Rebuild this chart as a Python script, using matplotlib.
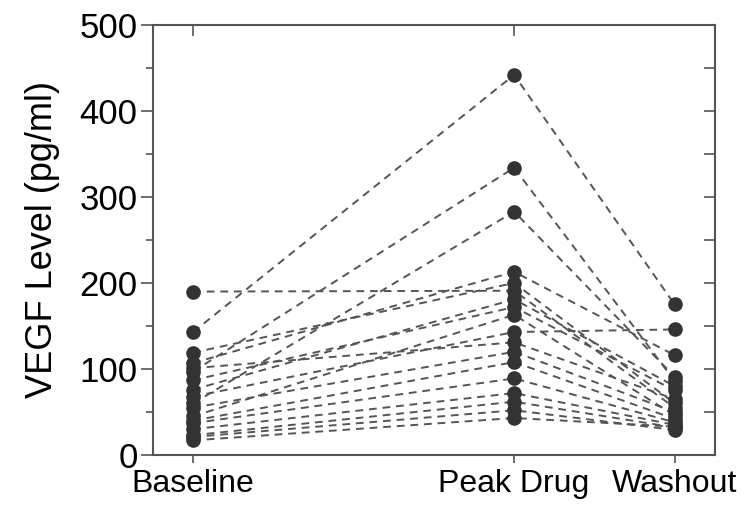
import numpy as np
import matplotlib.pyplot as plt

# one row per patient: baseline -> peak drug -> washout (pg/ml)
stages = ['Baseline', 'Peak Drug', 'Washout']
stage_x = [0, 2, 3]
baseline = [190, 143, 119, 107, 101, 97, 87, 76, 68, 60, 55, 45, 40, 37, 30, 23, 21, 17]
peak = [191, 442, 200, 213, 131, 334, 172, 181, 143, 283, 120, 163, 108, 89, 72, 62, 52, 43]
washout = [55, 175, 60, 116, 65, 86, 75, 80, 146, 91, 50, 46, 42, 38, 35, 32, 29, 33]

plt.rcParams['font.family'] = ['Liberation Sans', 'DejaVu Sans']

fig = plt.figure(figsize=(7.5, 5.11), dpi=100)
ax = fig.add_axes([0.204, 0.1096, 0.749, 0.8415])

for b, p, w in zip(baseline, peak, washout):
    ax.plot(stage_x, [b, p, w], ls=(0, (4, 3)), color='#555555', lw=1.4, zorder=1)
    ax.plot(stage_x, [b, p, w], 'o', color='#333333', ms=9.5, zorder=2)

ax.set_xlim(-0.25, 3.25)
ax.set_ylim(0, 500)
ax.set_xticks(stage_x)
ax.set_xticklabels(stages, fontsize=23)
ax.set_yticks(np.arange(0, 501, 100))
ax.set_yticks(np.arange(50, 500, 100), minor=True)
ax.tick_params(axis='y', which='major', direction='out', length=9, width=1.2,
               labelsize=25, pad=2, color='#555555')
ax.tick_params(axis='y', which='minor', direction='out', length=5, width=1.2,
               color='#555555')
ax.tick_params(axis='x', direction='out', length=6, width=1.2, pad=4,
               color='#555555')
ax.set_ylabel('VEGF Level (pg/ml)', fontsize=26, labelpad=14)

for s in ax.spines.values():
    s.set_color('#555555')
    s.set_linewidth(1.5)

# inward ticks on the right and top frame
rax = ax.secondary_yaxis('right')
rax.set_yticks(np.arange(0, 501, 50))
rax.tick_params(direction='in', length=8, width=1.2, labelright=False, color='#555555')
rax.spines['right'].set_visible(False)
tax = ax.secondary_xaxis('top')
tax.set_xticks([0, 2])
tax.tick_params(direction='in', length=8, width=1.2, labeltop=False, color='#555555')
tax.spines['top'].set_visible(False)

fig.savefig('out.png', dpi=100)
